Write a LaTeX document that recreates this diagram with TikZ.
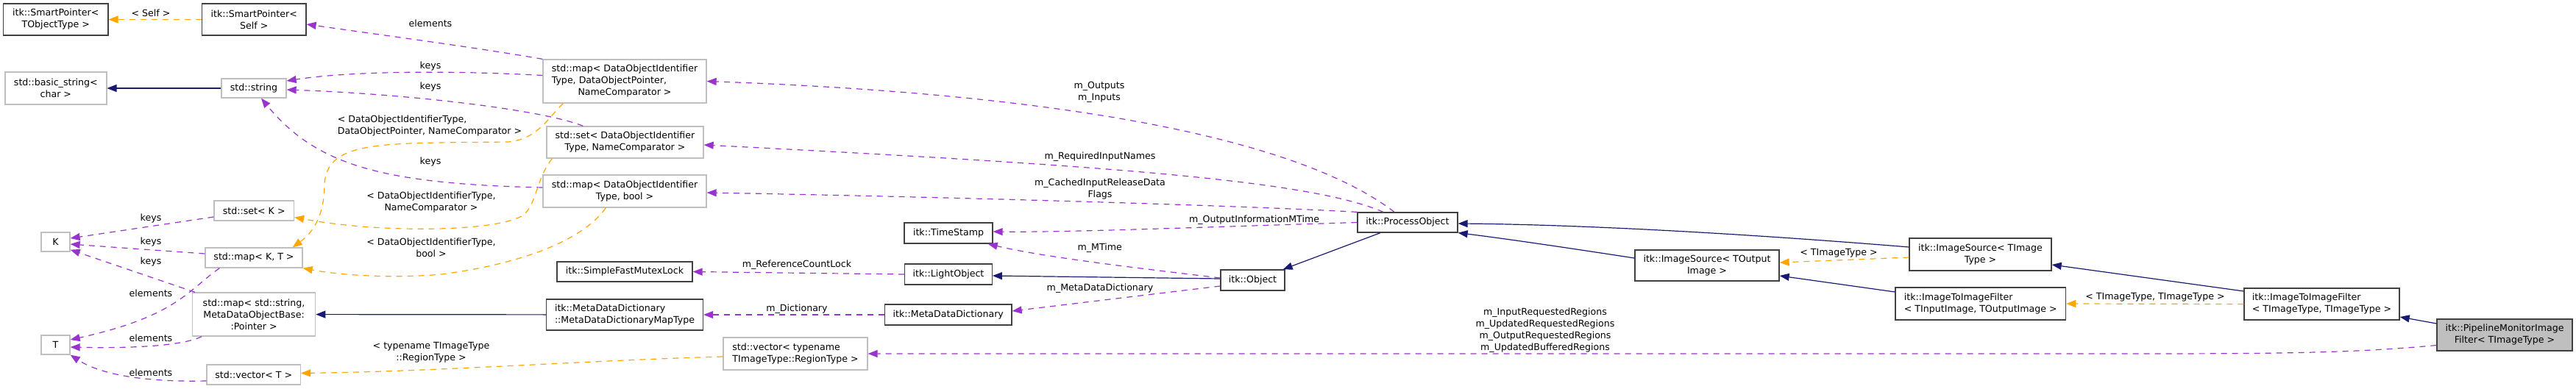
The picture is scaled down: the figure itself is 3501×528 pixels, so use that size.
\documentclass[tikz,border=0pt]{standalone}
\usepackage{fontspec}
\setmainfont{DejaVu Sans}
\usetikzlibrary{arrows.meta,calc}
\definecolor{usecol}{HTML}{9A32CD}
\definecolor{tplcol}{HTML}{FFA500}
\definecolor{inhcol}{HTML}{191970}
\definecolor{grayb}{HTML}{BFBFBF}
\definecolor{darkb}{HTML}{404040}
\newcommand{\LC}[2]{\begin{tabular}{@{}l@{}}#1\\\multicolumn{1}{@{}c@{}}{#2}\end{tabular}}
\begin{document}
\begin{tikzpicture}[x=1pt,y=-1pt,
  font=\fontsize{12.6}{16}\selectfont,
  bx/.style={draw=darkb, line width=1.3pt, inner sep=0pt, align=center, fill=white},
  gb/.style={draw=grayb, line width=1.3pt, inner sep=0pt, align=center, fill=white},
  sz/.style 2 args={minimum width=#1pt, minimum height=#2pt},
  lbl/.style={inner sep=0pt, align=center},
  use/.style={draw=usecol, line width=1.2pt, dash pattern=on 8pt off 7pt, -{Triangle[length=13pt,width=10pt,fill=usecol]}},
  tpl/.style={draw=tplcol, line width=1.2pt, dash pattern=on 8pt off 7pt, -{Triangle[length=13pt,width=10pt,fill=tplcol]}},
  inh/.style={draw=inhcol, line width=1.2pt, -{Triangle[length=13pt,width=10pt,fill=inhcol]}}
]
\useasboundingbox (0,0) rectangle (3501,528);

% ---- nodes ----
\node[bx,sz={142.5}{43}] (spT) at (75.75,26.5) {itk::SmartPointer<\\TObjectType >};
\node[bx,sz={141.5}{43}] (spS) at (345.25,26.5) {itk::SmartPointer<\\Self >};
\node[gb,sz={138}{44}] (bstr) at (75.85,120) {std::basic\_string<\\char >};
\node[gb,sz={88}{26}] (str) at (345,120) {std::string};
\node[gb,sz={108.5}{27}] (setK) at (345.25,286.5) {std::set< K >};
\node[gb,sz={39}{26}] (K) at (75.5,329) {K};
\node[gb,sz={132}{27}] (mapKT) at (345,350.5) {std::map< K, T >};
\node[gb,sz={167}{59}] (mapStr) at (345.1,427.5) {std::map< std::string,\\MetaDataObjectBase:\\:Pointer >};
\node[gb,sz={39}{26}] (T) at (75.5,469) {T};
\node[gb,sz={127.5}{27}] (vecT) at (344.75,509.5) {std::vector< T >};
\node[gb,sz={222}{59}] (mapDOI) at (849,110.5) {\begin{tabular}{@{}l@{}}std::map< DataObjectIdentifier\\Type, DataObjectPointer,\\\multicolumn{1}{@{}c@{}}{NameComparator >}\end{tabular}};
\node[gb,sz={213}{43}] (setDOI) at (849.5,193.5) {std::set< DataObjectIdentifier\\Type, NameComparator >};
\node[gb,sz={222}{44}] (mapDOIb) at (849,260) {std::map< DataObjectIdentifier\\Type, bool >};
\node[bx,sz={120}{28}] (ts) at (1289,317) {itk::TimeStamp};
\node[bx,sz={184}{27}] (mutex) at (849,369.5) {itk::SimpleFastMutexLock};
\node[bx,sz={118.5}{28}] (lo) at (1289,373) {itk::LightObject};
\node[bx,sz={213}{42}] (mddmap) at (849,428) {\LC{itk::MetaDataDictionary}{::MetaDataDictionaryMapType}};
\node[bx,sz={172.5}{28}] (mdd) at (1288.75,428) {itk::MetaDataDictionary};
\node[gb,sz={196}{44}] (vecReg) at (1081,481) {\LC{std::vector< typename}{TImageType::RegionType >}};
\node[bx,sz={87}{28}] (obj) at (1702.5,381) {itk::Object};
\node[bx,sz={136}{27}] (po) at (1913,302.5) {itk::ProcessObject};
\node[bx,sz={196}{42}] (isOut) at (2320,361) {itk::ImageSource< TOutput\\Image >};
\node[bx,sz={193}{44}] (isImg) at (2691.5,346) {itk::ImageSource< TImage\\Type >};
\node[bx,sz={231.6}{44}] (itifIO) at (2691.8,413) {\LC{itk::ImageToImageFilter}{< TInputImage, TOutputImage >}};
\node[bx,sz={211}{43}] (itifTT) at (3155.5,413.5) {\LC{itk::ImageToImageFilter}{< TImageType, TImageType >}};
\node[bx,sz={184}{43},fill=grayb] (pipe) at (3404,455.5) {itk::PipelineMonitorImage\\Filter< TImageType >};

% ---- labels ----
\node[lbl] (l1) at (205,18) {< Self >};
\node[lbl] (l2) at (584,171) {\LC{< DataObjectIdentifierType,}{DataObjectPointer, NameComparator >}};
\node[lbl] (l3) at (586,275) {< DataObjectIdentifierType,\\NameComparator >};
\node[lbl] (l4) at (586,337) {< DataObjectIdentifierType,\\bool >};
\node[lbl] (l5) at (586,479) {< typename TImageType\\::RegionType >};
\node[lbl] (l6) at (2499,344) {< TImageType >};
\node[lbl] (l7) at (2929,404) {< TImageType, TImageType >};
\node[lbl] (l17) at (585,32) {elements};
\node[lbl] (l18) at (585,90) {keys};
\node[lbl] (l19) at (585,118) {keys};
\node[lbl] (l20) at (585,220) {keys};
\node[lbl] (l21) at (1494,125) {m\_Outputs\\m\_Inputs};
\node[lbl] (l22) at (1495,213) {m\_RequiredInputNames};
\node[lbl] (l23) at (1495,257) {m\_CachedInputReleaseData\\Flags};
\node[lbl] (l24) at (1704.5,299) {m\_OutputInformationMTime};
\node[lbl] (l25) at (1494.7,337) {m\_MTime};
\node[lbl] (l26) at (1083,360) {m\_ReferenceCountLock};
\node[lbl] (l27) at (1495,392) {m\_MetaDataDictionary};
\node[lbl] (l28) at (1083,420) {m\_Dictionary};
\node[lbl] (l29) at (2100,449) {m\_InputRequestedRegions\\m\_UpdatedRequestedRegions\\m\_OutputRequestedRegions\\m\_UpdatedBufferedRegions};
\node[lbl] (l30) at (205,297) {keys};
\node[lbl] (l31) at (205,329) {keys};
\node[lbl] (l32) at (205,356) {keys};
\node[lbl] (l33) at (205,399) {elements};
\node[lbl] (l34) at (205,460) {elements};
\node[lbl] (l35) at (205,507) {elements};

% ---- inheritance edges ----
\draw[inh] (str) -- (bstr);
\draw[inh] (mddmap) -- (mapStr);
\draw[inh] ($(obj.west)+(0,-2)$) -- ($(lo.east)+(0,2)$);
\draw[inh] ($(po.south)+(-37,0)$) -- ($(obj.north east)+(-3,0)$);
\draw[inh] ($(isImg.west)+(0,-10)$) .. controls (2300,312) and (2100,305) .. ($(po.east)+(0,1.5)$);
\draw[inh] ($(isOut.west)+(0,-10)$) .. controls (2150,340) and (2050,325) .. (po.south east);
\draw[inh] ($(itifIO.west)+(0,-16)$) -- ($(isOut.east)+(0,14)$);
\draw[inh] ($(itifTT.west)+(0,-17.5)$) -- ($(isImg.east)+(0,14)$);
\draw[inh] ($(pipe.west)+(0,-15.5)$) -- ($(itifTT.east)+(0,17.5)$);

% ---- template edges ----
\draw[tpl] (spS) -- (spT);
\draw[tpl] ($(mapDOI.south west)+(28,0)$) .. controls (745,160) and (730,190) .. (690,193)
  .. controls (520,195) and (445,190) .. (441,250)
  .. controls (441,300) and (420,320) .. ($(mapKT.north east)+(-14,0)$);
\draw[tpl] ($(setDOI.south west)+(8,0)$) .. controls (728,245) and (730,275) .. (712,292)
  .. controls (680,315) and (520,318) .. ($(setK.east)+(0,9)$);
\draw[tpl] ($(mapDOIb.south west)+(86,0)$) .. controls (790,330) and (700,360) .. (600,373)
  .. controls (520,380) and (450,372) .. (mapKT.south east);
\draw[tpl] ($(vecReg.west)+(0,4)$) .. controls (800,490) and (600,505) .. ($(vecT.east)+(0,-2)$);
\draw[tpl] ($(isImg.west)+(0,4)$) -- ($(isOut.east)+(0,-4)$);
\draw[tpl] (itifTT.west) -- (itifIO.east);

% ---- usage edges ----
\draw[use] (mapDOI.north west) .. controls (650,65) and (500,45) .. ($(spS.east)+(0,6.5)$);
\draw[use] ($(mapDOI.west)+(0,-8)$) .. controls (620,96) and (480,96) .. ($(str.east)+(0,-10)$);
\draw[use] ($(setDOI.north west)+(50,0)$) .. controls (740,150) and (560,128) .. ($(str.east)+(0,2)$);
\draw[use] ($(mapDOIb.west)+(0,-5)$) .. controls (520,250) and (430,225) .. ($(str.south)+(10,0)$);
\draw[use] ($(po.north)+(-18,0)$) .. controls (1780,200) and (1500,130) .. (mapDOI.east);
\draw[use] ($(po.north)+(-33,0)$) .. controls (1780,245) and (1500,225) .. ($(setDOI.east)+(0,3.5)$);
\draw[use] (po.north west) .. controls (1700,280) and (1300,268) .. ($(mapDOIb.east)+(0,2)$);
\draw[use] (po.west) .. controls (1600,310) and (1450,316) .. ($(ts.east)+(0,-2)$);
\draw[use] ($(obj.west)+(0,-3)$) .. controls (1550,365) and (1420,350) .. ($(ts.south east)+(-7,0)$);
\draw[use] (lo.west) -- (mutex.east);
\draw[use] ($(obj.west)+(0,8)$) -- ($(mdd.east)+(0,-5)$);
\draw[use] (mdd.west) -- (mddmap.east);
\draw[use] ($(pipe.west)+(0,14)$) .. controls (3200,480) and (3100,481) .. (2900,481) -- (vecReg.east);
\draw[use] ($(setK.west)+(0,8.5)$) -- ($(K.east)+(0,-5)$);
\draw[use] ($(mapKT.west)+(0,-5.5)$) -- ($(K.east)+(0,3)$);
\draw[use] ($(mapStr.north west)+(4,0)$) -- ($(K.south east)+(0,-3)$);
\draw[use] ($(mapKT.south west)+(20,0)$) .. controls (255,395) and (240,430) .. ($(T.east)+(0,-7)$);
\draw[use] ($(mapStr.south west)+(13,0)$) .. controls (250,470) and (180,474) .. ($(T.east)+(0,3)$);
\draw[use] ($(vecT.west)+(0,8.5)$) .. controls (180,520) and (130,505) .. (T.south east);
\end{tikzpicture}
\end{document}
